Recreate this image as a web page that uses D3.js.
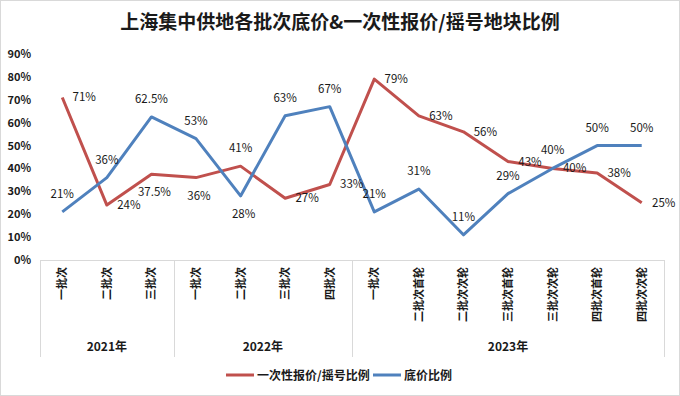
<!DOCTYPE html>
<html>
<head>
<meta charset="utf-8">
<script src="https://cdn.jsdelivr.net/npm/d3@7"></script>
<style>
  html, body { margin: 0; padding: 0; background: #fff; }
  svg { display: block; font-family: "Noto Sans CJK SC", "Noto Sans", sans-serif; }
</style>
</head>
<body>
<svg id="chart" width="680" height="396"></svg>
<script>
const title = '上海集中供地各批次底价&一次性报价/摇号地块比例'
const years = ['2021年', '2022年', '2023年']
const batchYear = [0, 0, 0, 1, 1, 1, 1, 2, 2, 2, 2, 2, 2, 2]
const batches = ['一批次', '二批次', '三批次', '一批次', '二批次', '三批次', '四批次',
  '一批次', '二批次首轮', '二批次次轮', '三批次首轮', '三批次次轮', '四批次首轮', '四批次次轮']
const offerRatio = [71, 24, 37.5, 36, 41, 27, 33, 79, 63, 56, 43, 40, 38, 25]
const floorRatio = [21, 36, 62.5, 53, 28, 63, 67, 21, 31, 11, 29, 40, 50, 50]
// where each data label sits relative to its point (like Excel's label position)
const offerLabelPos = ['right', 'right', 'below', 'below', 'above', 'right', 'right',
  'right', 'right', 'right', 'right', 'right', 'right', 'right']
const floorLabelPos = ['above', 'above', 'above', 'above', 'below', 'above', 'above',
  'above', 'above', 'above', 'above', 'above', 'above', 'above']
const yTicks = [0, 10, 20, 30, 40, 50, 60, 70, 80, 90]

const series = [
  {name: '一次性报价/摇号比例', values: offerRatio, pos: offerLabelPos, color: '#C0504D'},
  {name: '底价比例', values: floorRatio, pos: floorLabelPos, color: '#4F81BD'}
]

const W = 680, H = 396
const plotLeft = 40, plotRight = 664, plotTop = 54, plotBottom = 260

const svg = d3.select('#chart')

svg.append('rect')
  .attr('x', 0.5).attr('y', 0.5)
  .attr('width', W - 1).attr('height', H - 1)
  .attr('fill', '#fff').attr('stroke', '#d9d9d9')

svg.append('text')
  .attr('x', 340).attr('y', 29)
  .attr('text-anchor', 'middle')
  .attr('font-size', 19).attr('font-weight', 'bold')
  .attr('fill', '#1a1a1a')
  .text(title)

const x = d3.scaleBand().domain(d3.range(batches.length)).range([plotLeft, plotRight])
const y = d3.scaleLinear().domain([0, 90]).range([plotBottom, plotTop])
const cx = i => x(i) + x.bandwidth() / 2

// y axis labels only
const yAxis = svg.append('g')
  .attr('transform', `translate(${plotLeft},0)`)
  .call(d3.axisLeft(y).tickValues(yTicks).tickSize(0).tickPadding(9).tickFormat(d => d + '%'))
yAxis.select('.domain').remove()
yAxis.selectAll('text')
  .attr('font-size', 11).attr('font-weight', 'bold').attr('fill', '#1a1a1a')
  .attr('font-family', '"Noto Sans CJK SC", sans-serif')

// category axis: base line, group separators, rotated batch labels, year labels
const catBottom = 357
svg.append('line')
  .attr('x1', plotLeft).attr('x2', plotRight).attr('y1', plotBottom + 0.5).attr('y2', plotBottom + 0.5)
  .attr('stroke', '#d9d9d9')

const groupStarts = years.map((yr, g) => batchYear.indexOf(g))
const groupEnds = years.map((yr, g) => batchYear.lastIndexOf(g))
const seps = groupStarts.map(i => x(i)).concat([plotRight])
svg.append('g').selectAll('line')
  .data(seps)
  .join('line')
  .attr('x1', d => Math.round(d) + 0.5).attr('x2', d => Math.round(d) + 0.5)
  .attr('y1', plotBottom).attr('y2', catBottom)
  .attr('stroke', '#d9d9d9')

svg.append('g').selectAll('text')
  .data(batches)
  .join('text')
  .attr('transform', (d, i) => `translate(${cx(i) + 4},${plotBottom + 7}) rotate(-90)`)
  .attr('text-anchor', 'end')
  .attr('font-size', 11).attr('font-weight', 'bold').attr('fill', '#1a1a1a')
  .text(d => d)

svg.append('g').selectAll('text')
  .data(years)
  .join('text')
  .attr('x', (d, g) => (x(groupStarts[g]) + x(groupEnds[g]) + x.bandwidth()) / 2)
  .attr('y', 351)
  .attr('text-anchor', 'middle')
  .attr('font-size', 12).attr('font-weight', 'bold').attr('fill', '#1a1a1a')
  .text(d => d)

// lines
const line = d3.line().x((d, i) => cx(i)).y(d => y(d))
svg.append('g').selectAll('path')
  .data(series)
  .join('path')
  .attr('d', s => line(s.values))
  .attr('fill', 'none')
  .attr('stroke', s => s.color)
  .attr('stroke-width', 3)
  .attr('stroke-linejoin', 'round')

// data labels
const labelOffset = {
  right: [22, 4],
  above: [0, -14],
  below: [3, 22]
}
series.forEach(s => {
  svg.append('g').selectAll('text')
    .data(s.values)
    .join('text')
    .attr('x', (d, i) => cx(i) + labelOffset[s.pos[i]][0])
    .attr('y', (d, i) => y(d) + labelOffset[s.pos[i]][1])
    .attr('text-anchor', 'middle')
    .attr('font-size', 11.5).attr('fill', '#1a1a1a')
    .text(d => d + '%')
})

// legend
const legend = svg.append('g').attr('transform', 'translate(226,375)')
const legendX = [0, 147]
series.forEach((s, k) => {
  const g = legend.append('g').attr('transform', `translate(${legendX[k]},0)`)
  g.append('line').attr('x1', 0).attr('x2', 28).attr('y1', 0).attr('y2', 0)
    .attr('stroke', s.color).attr('stroke-width', 3)
  g.append('text').attr('x', 31).attr('y', 4.5)
    .attr('font-size', 12).attr('font-weight', 'bold').attr('fill', '#1a1a1a')
    .text(s.name)
})
</script>
</body>
</html>
